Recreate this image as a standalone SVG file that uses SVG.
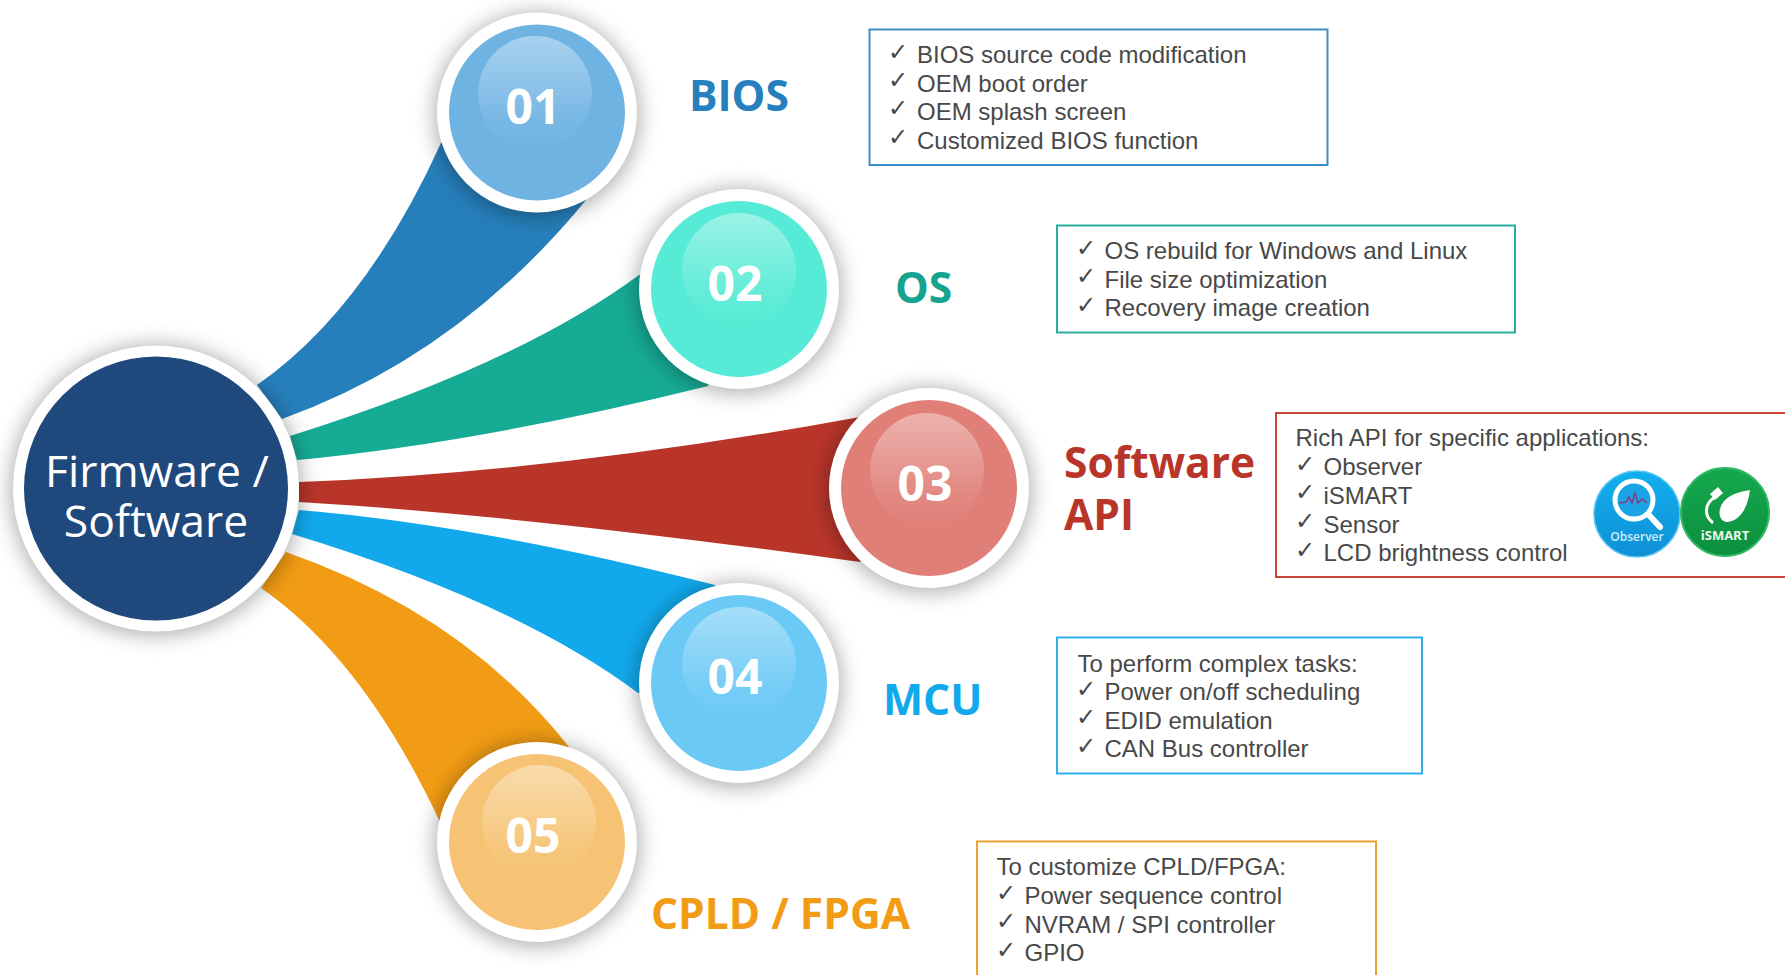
<svg xmlns="http://www.w3.org/2000/svg" width="1785" height="975" viewBox="0 0 1785 975">
<style>
text{font-family:"Open Sans","Noto Sans",sans-serif}
.ring{fill:#fff}
.sh{fill:#000;fill-opacity:.3;filter:url(#blur)}
.gl{fill:url(#gloss)}
.num{fill:#fff;font-size:48px;font-weight:700;text-anchor:middle}
.lab{font-size:42.500px;font-weight:700}
.hub{fill:#fff;font-size:44.500px;font-weight:500;text-anchor:middle}
.box{fill:#fff;stroke-width:2}
.t{font-family:"Liberation Sans",Arial,sans-serif;font-size:24px;fill:#484848}
.c{font-family:"DejaVu Sans",sans-serif;font-size:24px;fill:#484848}
</style>
<defs>
<filter id="blur" x="-30%" y="-30%" width="160%" height="160%"><feGaussianBlur stdDeviation="10"/></filter>
<linearGradient id="gloss" x1="0" y1="0" x2="0" y2="1"><stop offset="0" stop-color="#fff" stop-opacity=".4"/><stop offset=".72" stop-color="#fff" stop-opacity=".07"/><stop offset="1" stop-color="#fff" stop-opacity="0"/></linearGradient>
<linearGradient id="obs" x1="0" y1="0" x2="0" y2="1"><stop offset="0" stop-color="#13b0ee"/><stop offset="1" stop-color="#0f8fd6"/></linearGradient>
<linearGradient id="ism" x1="0" y1="0" x2="0" y2="1"><stop offset="0" stop-color="#16a84e"/><stop offset="1" stop-color="#0b8f3e"/></linearGradient>
</defs>
<rect width="1785" height="975" fill="#fff"/>
<g id="connectors">
<path fill="#267FBB" d="M257 385Q365 310 441 143L537 113L586 200Q458 356 282 419Z"/>
<path fill="#16AB95" d="M290 436Q517.500 364.500 639 275L739 289L708 386Q483.500 442 297 460Z"/>
<path fill="#B9352A" d="M299 482Q560 472 860 417L929 488L860 562Q520 515 299 502Z"/>
<path fill="#11A9EC" d="M299 510Q480 525 715 585L739 683L638 693Q517 602.500 292 534Z"/>
<path fill="#F19C14" d="M286 552Q464.500 614.500 569 747L537 842L440 822Q363.500 659 261 588Z"/>
</g>
<g id="node-hub">
<circle class="sh" cx="156" cy="490" r="146"/>
<circle class="ring" cx="156" cy="488.500" r="143"/>
<circle cx="156" cy="488.500" r="132" fill="#1F497D"/>
<text class="hub"><tspan x="157" y="487">Firmware /</tspan><tspan x="156" y="537">Software</tspan></text>
</g>
<g id="node-01">
<circle class="sh" cx="537" cy="115" r="103"/>
<circle class="ring" cx="537" cy="112.500" r="100"/>
<circle cx="537" cy="112.500" r="88" fill="#6FB3E3"/>
<circle class="gl" cx="535" cy="93" r="57"/>
<text class="num" x="533" y="124">01</text>
</g>
<g id="node-02">
<circle class="sh" cx="739" cy="291" r="103"/>
<circle class="ring" cx="739" cy="289" r="100"/>
<circle cx="739" cy="289" r="88" fill="#56EBD6"/>
<circle class="gl" cx="739" cy="270" r="57"/>
<text class="num" x="735" y="301">02</text>
</g>
<g id="node-03">
<circle class="sh" cx="929" cy="490" r="103"/>
<circle class="ring" cx="929" cy="488" r="100"/>
<circle cx="929" cy="488" r="88" fill="#E07F78"/>
<circle class="gl" cx="927" cy="470" r="57"/>
<text class="num" x="925" y="501">03</text>
</g>
<g id="node-04">
<circle class="sh" cx="739" cy="685" r="103"/>
<circle class="ring" cx="739" cy="683" r="100"/>
<circle cx="739" cy="683" r="88" fill="#6BC9F6"/>
<circle class="gl" cx="739" cy="664" r="57"/>
<text class="num" x="735" y="694">04</text>
</g>
<g id="node-05">
<circle class="sh" cx="537" cy="844" r="103"/>
<circle class="ring" cx="537" cy="842" r="100"/>
<circle cx="537" cy="842" r="88" fill="#F5C373"/>
<circle class="gl" cx="539" cy="822" r="57"/>
<text class="num" x="533" y="853">05</text>
</g>
<g id="label-bios"><text class="lab" x="689" y="111" fill="#2580BD">BIOS</text></g>
<g id="label-os"><text class="lab" x="895" y="303" fill="#16A38F">OS</text></g>
<g id="label-api"><text class="lab" fill="#B9352A"><tspan x="1064" y="478">Software</tspan><tspan x="1064" y="530">API</tspan></text></g>
<g id="label-mcu"><text class="lab" x="883" y="715" fill="#11A9EC">MCU</text></g>
<g id="label-cpld"><text class="lab" x="651" y="929" fill="#F19C14">CPLD / FPGA</text></g>
<g id="box-bios">
<rect class="box" x="869.500" y="29.500" width="458" height="135.500" stroke="#3B8DC6"/>
<text class="c" x="888" y="60">✓</text><text class="t" x="917" y="63">BIOS source code modification</text>
<text class="c" x="888" y="88">✓</text><text class="t" x="917" y="92">OEM boot order</text>
<text class="c" x="888" y="116">✓</text><text class="t" x="917" y="120">OEM splash screen</text>
<text class="c" x="888" y="145">✓</text><text class="t" x="917" y="149">Customized BIOS function</text>
</g>
<g id="box-os">
<rect class="box" x="1057" y="225.500" width="458" height="107" stroke="#2BAEA0"/>
<text class="c" x="1076" y="256">✓</text><text class="t" x="1104.500" y="259">OS rebuild for Windows and Linux</text>
<text class="c" x="1076" y="284">✓</text><text class="t" x="1104.500" y="288">File size optimization</text>
<text class="c" x="1076" y="313">✓</text><text class="t" x="1104.500" y="316">Recovery image creation</text>
</g>
<g id="box-api">
<rect class="box" x="1276" y="413" width="520" height="164" stroke="#C94438"/>
<text class="t" x="1295.500" y="445.500">Rich API for specific applications:</text>
<text class="c" x="1295" y="472">✓</text><text class="t" x="1323.500" y="475">Observer</text>
<text class="c" x="1295" y="500">✓</text><text class="t" x="1323.500" y="504">iSMART</text>
<text class="c" x="1295" y="529">✓</text><text class="t" x="1323.500" y="533">Sensor</text>
<text class="c" x="1295" y="558">✓</text><text class="t" x="1323.500" y="561">LCD brightness control</text>
</g>
<g id="icon-observer">
<circle cx="1637" cy="514" r="43" fill="url(#obs)" stroke="#5cc6f0" stroke-width="1.500"/>
<circle cx="1634" cy="500" r="19" fill="#1aa3e6" stroke="#fff" stroke-width="5"/>
<path d="M1648 514L1660 527" stroke="#fff" stroke-width="6" stroke-linecap="round"/>
<path d="M1619 503L1626 502L1629 497L1632 503L1635 493L1638 503L1642 499L1647 503" fill="none" stroke="#8a3a7a" stroke-width="1.500"/>
<text x="1637" y="541" text-anchor="middle" fill="#cdeefc" font-size="12" font-weight="600">Observer</text>
</g>
<g id="icon-ismart">
<circle cx="1725" cy="512" r="44" fill="url(#ism)" stroke="#2fb866" stroke-width="2"/>
<path d="M1750 490C1736 492 1723 497 1720 509C1718 517 1722 522 1728 522C1742 520 1748 505 1750 490Z" fill="#fff"/>
<path d="M1715 497C1704 504 1704 516 1713 523" fill="none" stroke="#fff" stroke-width="3"/>
<path d="M1710 494L1718 487L1723 493L1715 500Z" fill="#fff"/>
<text x="1725" y="540" text-anchor="middle" fill="#e8f8ee" font-size="13" font-weight="700">iSMART</text>
</g>
<g id="box-mcu">
<rect class="box" x="1057" y="637.500" width="365" height="136" stroke="#2DB0EA"/>
<text class="t" x="1077.500" y="671.500">To perform complex tasks:</text>
<text class="c" x="1076" y="697">✓</text><text class="t" x="1104.500" y="700">Power on/off scheduling</text>
<text class="c" x="1076" y="725">✓</text><text class="t" x="1104.500" y="729">EDID emulation</text>
<text class="c" x="1076" y="754">✓</text><text class="t" x="1104.500" y="757">CAN Bus controller</text>
</g>
<g id="box-cpld">
<rect class="box" x="977" y="841.500" width="399" height="150" stroke="#F0A030"/>
<text class="t" x="996.500" y="874.500">To customize CPLD/FPGA:</text>
<text class="c" x="996" y="901">✓</text><text class="t" x="1024.500" y="904">Power sequence control</text>
<text class="c" x="996" y="929">✓</text><text class="t" x="1024.500" y="933">NVRAM / SPI controller</text>
<text class="c" x="996" y="958">✓</text><text class="t" x="1024.500" y="961">GPIO</text>
</g>
</svg>
